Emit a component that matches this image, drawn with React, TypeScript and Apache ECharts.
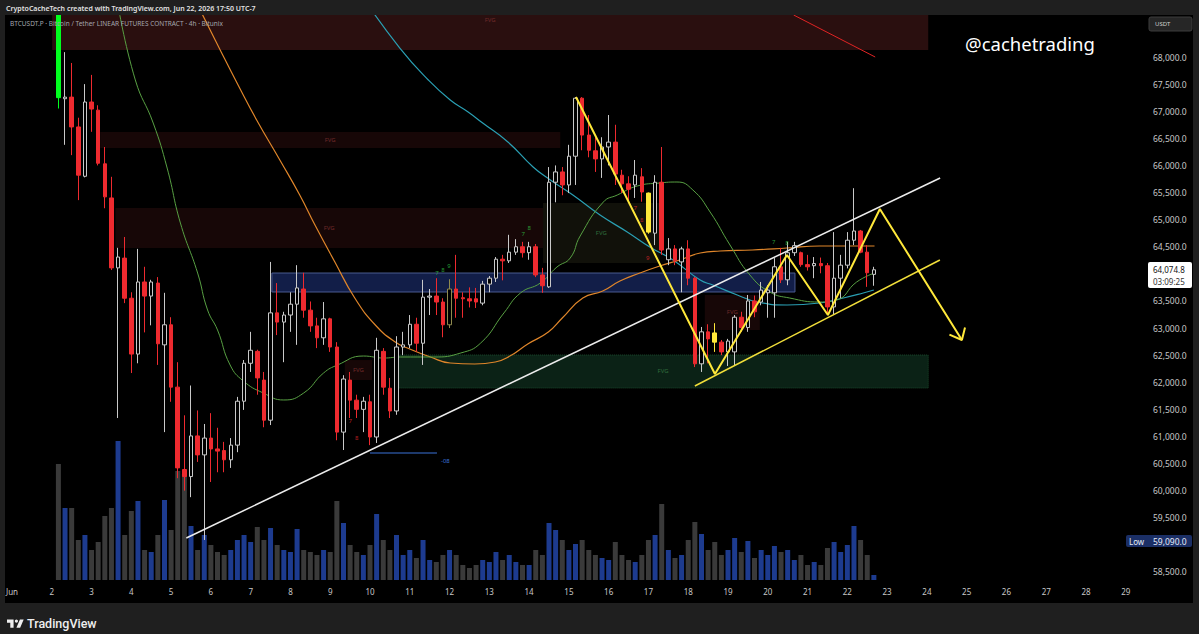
import React, { useEffect, useRef } from "react";
import * as echarts from "echarts";

// ---------- DATA ----------
const dayLabels = ["Jun","2","3","4","5","6","7","8","9","10","11","12","13","14","15","16","17","18","19","20","21","22","23","24","25","26","27","28","29"];
// x unit = one 4h bar counted from Jun 1 00:00; first candle sits at bar 7 (Jun 2 04:00)
const firstBar = 7;

const opens = [69800,67230,67260,66710,65800,67170,67020,66030,65400,64110,
 64290,63550,62520,63850,63590,63830,62690,63060,61910,60390,
 60260,61010,60660,60970,60770,60740,60570,60840,61650,62350,
 62570,62040,61300,63280,63110,63240,63440,63720,63330,63040,
 62820,63170,62650,61080,62040,61670,61500,61640,60990,62570,
 61890,61470,62650,62690,63070,62720,63570,63590,63480,63060,
 63720,63560,63540,63540,63460,63810,63920,64270,64240,64400,
 64500,64390,64500,63980,63760,65690,65880,65640,66170,67240,
 66560,66270,66120,66340,66430,65820,65660,65640,65790,65490,
 64750,65690,64260,64460,64220,64460,63920,62340,62930,62910,
 62740,62560,62560,63200,63010,63500,63480,63650,63650,64130,
 63890,64390,64390,64170,64150,64190,64150,63390,63920,64160,
 64620,64790,64400,63990];
const closes = [67250,67260,66710,65820,67170,67040,66040,65420,64110,64310,
 63550,62520,63850,63590,63850,62710,63060,61910,60420,60260,
 61010,60660,60970,60770,60730,60570,60840,61650,62350,62590,
 62080,61300,63280,63110,63240,63440,63740,63330,63040,62820,
 63170,62650,61080,62060,61670,61500,61650,60990,62590,61910,
 61470,62650,62690,63070,62720,63570,63590,63480,63060,63720,
 63550,63540,63500,63480,63810,63920,64270,64240,64400,64500,
 64390,64500,63980,63780,65690,65880,65640,66170,67240,66560,
 66280,66120,66340,66430,65840,65660,65560,65820,65510,64770,
 65690,64440,64460,64240,64460,63920,62340,62930,62800,62740,
 62560,62760,63200,63010,63500,63300,63700,63700,64130,63890,
 64390,64520,64170,64130,64190,64150,63390,63920,64160,64620,
 64790,64400,64020,64075];
const lows = [67050,66380,66190,65360,65780,66620,66000,65210,64070,61340,
 63460,62170,62350,62920,63050,62320,61080,61640,60230,60000,
 59880,60530,59090,60160,60340,60340,60420,60710,61490,62190,
 61770,61170,61210,62870,62370,62930,62690,63190,62930,62630,
 62690,62560,60930,60750,61340,61340,61080,60840,60880,61770,
 61340,61400,62500,62630,62560,62320,63240,63240,62830,63000,
 63190,63190,63380,63370,63420,63660,63850,63880,64200,64350,
 64300,64260,63940,63650,63740,65320,65450,65490,65640,66280,
 66150,65880,65770,66000,65640,65490,65350,65400,65330,64740,
 64530,64350,64160,64160,63660,63790,62280,62190,62350,62560,
 62500,62300,62300,62930,62930,63200,63420,63190,63190,63830,
 63790,64330,64130,64060,63920,64010,63240,63240,63550,64100,
 64530,64380,63760,63780];
const highs = [69900,68090,67890,66880,67500,67670,67110,66340,65790,64480,
 64680,63660,64460,64130,63890,63940,63650,63200,62370,61390,
 61940,61480,61230,61430,61160,60900,60970,61730,62410,62930,
 62600,62190,64220,63830,63300,63660,64160,64020,63490,63190,
 63480,63190,62740,62130,62190,61770,61730,61770,62820,62630,
 62080,62850,62930,63240,63190,63890,63720,63920,63550,63900,
 64350,63660,63750,63740,63870,63960,64310,64350,64720,64640,
 64590,64590,64550,64110,65970,66000,65970,66380,67260,67260,
 66930,66520,66520,66930,66750,65920,65800,66100,65950,65500,
 65820,66340,64660,64530,64500,64620,63940,63020,63070,63090,
 62780,62800,63240,63300,63610,63600,63850,63790,64290,64480,
 64590,64590,64410,64350,64310,64300,64200,64770,64350,64770,
 65580,64810,64530,64130];
const volumes = [116,72,72,40,45,30,38,64,72,139,
 45,69,79,30,28,45,80,50,109,106,
 54,30,45,35,28,25,30,40,45,38,
 53,40,52,35,30,28,51,30,28,25,
 30,28,79,57,35,28,25,35,66,40,
 30,45,25,30,22,40,20,18,25,30,
 25,15,12,15,20,18,28,20,25,18,
 15,15,30,25,57,50,40,30,36,40,
 30,25,22,20,38,25,20,18,25,40,
 45,76,30,22,25,40,58,46,30,38,
 25,30,42,28,39,22,30,25,34,28,
 30,20,25,15,18,15,32,38,28,35,
 54,40,25,5];
// indicator-coloured bars (index -> kind)
const paintedBars: [number, string][] = [[0, "climax"], [89, "signal"], [99, "signal"], [59, "olive"]];

const maGreen = [[16.0,68950],[18.6,67576],[21.3,66782],[23.4,65952],[25.4,64938],[28.0,64015],[29.5,63333],[31.0,62964],[32.9,62318],[34.9,62023],[37.9,61802],[41.0,61673],[44.0,61802],[47.0,62171],[49.1,62318],[53.0,62484],[56.1,62447],[58.6,62466],[63.6,62466],[67.7,62540],[70.7,62724],[74.2,63278],[76.7,63647],[79.7,63831],[82.2,64126],[84.2,64292],[85.7,64698],[89.2,65325],[91.3,65454],[94.3,65620],[97.7,65676],[100.3,65694],[102.7,65547],[105.3,65141],[108.3,64532],[111.3,63979],[114.3,63665],[117.3,63554],[121.8,63480],[124.4,63517],[127.4,63849],[130.1,64015]];
const maOrange = [[28.0,68960],[31.4,68129],[34.1,67483],[36.9,66838],[40.4,66100],[43.4,65454],[45.7,64901],[48.7,64218],[51.7,63554],[54.8,63056],[57.8,62743],[60.0,62613],[63.1,62466],[66.1,62355],[69.8,62337],[72.9,62374],[75.1,62484],[77.8,62706],[80.9,62927],[83.0,63185],[86.1,63554],[89.1,63683],[91.7,63868],[94.7,64015],[97.7,64145],[100.7,64255],[103.8,64384],[106.8,64421],[111.7,64440],[116.9,64477],[121.8,64514],[125.9,64514],[130.1,64514]];
const maTeal = [[53.2,69050],[58.5,68166],[62.8,67576],[66.1,67207],[68.8,66985],[71.0,66782],[74.8,66432],[78.6,65971],[81.2,65731],[84.6,65454],[88.7,65085],[92.8,64772],[96.2,64495],[99.7,64255],[103.8,63886],[105.7,63794],[109.4,63610],[112.4,63480],[116.9,63425],[121.8,63462],[125.4,63554],[128.4,63646],[130.0,63702]];
const redTrend = [[117.9,68775],[130.2,68000]];
const whiteTrend = [[26.3,59127],[140.0,65768]];
const yellowZigzag = [[85.07,67262],[106.03,62152],[116.89,64348],[123.07,63241],[130.91,65196],[143.28,62780]];
const yellowArrow = [[141.4,62880],[143.28,62780],[143.75,63010]];
const yellowLower = [[103.0,61931],[139.96,64255]];
const blueLevel = [[54.0,60695],[64.1,60695]];
// zones: [fromBar, toBar, lowPrice, highPrice, kind]
const zones: [number, number, number, number, string][] = [
  [6.06, 138.2, 68129, 68775, "bearTop"],
  [13.3, 82.7, 66321, 66617, "bear"],
  [15.6, 80.1, 64477, 65215, "bear"],
  [80.1, 97.7, 64200, 65307, "olive"],
  [39.2, 118.1, 63665, 64015, "ob"],
  [58.2, 138.2, 61894, 62503, "bull"],
  [104.5, 112.8, 62964, 63610, "bear"],
  [50.2, 54.3, 62042, 62410, "bear"],
];
// sequential counts: [bar, price, count]
const buyCounts: [number, number, string][] = [[64.1,64015,"7"],[65.0,64071,"8"],[65.9,64145,"9"],[77.1,64735,"7"],[78.0,64846,"8"],[114.9,64587,"7"],[116.9,64569,"8"]];
const sellCounts: [number, number, string][] = [[94.0,65215,"7"],[95.0,64993,"8"],[95.9,64292,"9"],[51.0,61285,"7"],[52.0,60972,"8"]];
const lastPrice = "64,074.8";
const countdown = "03:09:25";
const lowLabel = "59,090.0";
const coveredTicks = [64000, 59000];

// ---------- STYLE ----------
const UP = "#c9c9c9";
const DOWN = "#ee2a2f";
const paint: Record<string, string> = { climax: "#00ff1e", signal: "#ffe83a", olive: "#8f8a4e" };
const zoneStyle: Record<string, any> = {
  bearTop: { fill: "#2a0f0f", text: "#6e2a2a", pos: "insideTop" },
  bear: { fill: "#170707", text: "#6e2a2a", pos: "inside" },
  olive: { fill: "#11110a", text: "#2f6b3c", pos: "inside" },
  ob: { fill: "#121e48", text: "", pos: "inside", border: "#4a5b90" },
  bull: { fill: "#0b2216", text: "#2f6b3c", pos: "inside", border: "#1a4a2c", dotted: true },
};

echarts.graphic.registerShape(
  "tvlogo",
  echarts.graphic.extendPath(
    "M14 22H7V11H0V4h14v18zM28 22h-8l7.5-18h8zM23.5 7.5a3.5 3.5 0 1 1-7 0a3.5 3.5 0 1 1 7 0z",
    {}
  ) as any
);

const fmt = (v: number) =>
  v.toLocaleString("en-US", { minimumFractionDigits: 1, maximumFractionDigits: 1 });

function buildOption() {
  const candleData = opens.map((o, i) => {
    const item: any = { value: [firstBar + i, o, closes[i], lows[i], highs[i]] };
    const p = paintedBars.find((b) => b[0] === i);
    if (p) {
      const c = paint[p[1]];
      item.itemStyle =
        p[1] === "olive"
          ? { borderColor: c, borderColor0: c }
          : { color: c, color0: c, borderColor: c, borderColor0: c };
    }
    return item;
  });
  const volData = volumes.map((v, i) => ({
    value: [firstBar + i, v],
    itemStyle: { color: closes[i] >= opens[i] ? "#1d3b8f" : "#3a3a3a" },
  }));
  const areaData = zones.map(([a, b, lo, hi, kind]) => {
    const s = zoneStyle[kind];
    return [
      {
        name: s.text ? "FVG" : "",
        xAxis: a,
        yAxis: hi,
        itemStyle: {
          color: s.fill,
          borderColor: s.border || "transparent",
          borderWidth: s.border ? 1 : 0,
          borderType: s.dotted ? "dotted" : "solid",
        },
        label: {
          show: !!s.text,
          position: s.pos,
          distance: 2,
          color: s.text,
          fontSize: 6,
          formatter: "{b}",
        },
      },
      { xAxis: b, yAxis: lo },
    ];
  });
  const line = (data: number[][], color: string, width: number, smooth: boolean, z = 4, extra: any = {}) => ({
    type: "line",
    data,
    smooth,
    symbol: "none",
    silent: true,
    z,
    lineStyle: { color, width },
    ...extra,
  });
  const counts = (rows: [number, number, string][], color: string) => ({
    type: "scatter",
    z: 8,
    silent: true,
    symbolSize: 0,
    data: rows.map((r) => ({ value: [r[0], r[1]], name: r[2] })),
    label: { show: true, position: "inside", formatter: "{b}", color, fontSize: 6 },
  });

  const text = (t: string, x: number, y: number, font: string, fill: string, align = "left") => ({
    type: "text",
    x,
    y,
    z: 120,
    style: { text: t, font, fill, align, verticalAlign: "middle" },
  });

  return {
    animation: false,
    backgroundColor: "#000000",
    textStyle: { fontFamily: "Noto Sans" },
    grid: [
      { left: 12, right: 52, top: 15, bottom: 54 },
      { left: 12, right: 52, top: 430, height: 150 },
    ],
    xAxis: [
      {
        type: "value",
        gridIndex: 0,
        min: 0,
        max: 171.2,
        interval: 6,
        axisLine: { show: false },
        axisTick: { show: false },
        splitLine: { show: false },
        axisLabel: {
          color: "#c8c8c8",
          fontSize: 8,
          margin: 7,
          formatter: (v: number) => {
            const d = Math.round(v / 6);
            if (Math.abs(v - d * 6) > 1e-6) return "";
            return dayLabels[d] ?? "";
          },
        },
      },
      { type: "value", gridIndex: 1, min: 0, max: 171.2, show: false },
    ],
    yAxis: [
      {
        type: "value",
        gridIndex: 0,
        position: "right",
        min: 58352,
        max: 68775,
        splitNumber: 20,
        minInterval: 500,
        maxInterval: 500,
        axisLine: { show: false },
        axisTick: { show: false },
        splitLine: { show: false },
        axisLabel: {
          color: "#c8c8c8",
          fontSize: 8.5,
          margin: 6,
          showMinLabel: false,
          showMaxLabel: false,
          formatter: (v: number) =>
            Math.abs(v / 500 - Math.round(v / 500)) < 1e-6 &&
            v < 68400 &&
            v > 58400 &&
            !coveredTicks.includes(Math.round(v))
              ? fmt(v)
              : "",
        },
      },
      { type: "value", gridIndex: 1, min: 0, max: 150, show: false },
    ],
    series: [
      {
        type: "line",
        data: [],
        z: 1,
        silent: true,
        markArea: { silent: true, data: areaData },
      },
      {
        type: "bar",
        xAxisIndex: 1,
        yAxisIndex: 1,
        barWidth: 5,
        data: volData,
        z: 2,
        silent: true,
      },
      line(maTeal, "#2a9fb3", 1.2, true),
      line(maOrange, "#e0862a", 1.2, true),
      line(maGreen, "#58a043", 1, true),
      {
        type: "candlestick",
        z: 5,
        barWidth: 4,
        silent: true,
        dimensions: ["bar", "open", "close", "lowest", "highest"],
        encode: { x: "bar", y: ["open", "close", "lowest", "highest"] },
        itemStyle: { color: "#000000", color0: DOWN, borderColor: UP, borderColor0: DOWN, borderWidth: 1 },
        data: candleData,
      },
      line(redTrend, "#e02424", 1, false, 6),
      line(whiteTrend, "#ececec", 1.5, false, 6),
      line(yellowLower, "#f2df3a", 1.5, false, 7),
      line(yellowZigzag, "#ffe83a", 2, false, 7),
      line(yellowArrow, "#ffe83a", 2, false, 7),
      line(blueLevel, "#3a72d8", 1.2, false, 6, {
        endLabel: { show: true, formatter: "-08", color: "#3a72d8", fontSize: 6, offset: [-4, 8] },
      }),
      counts(buyCounts, "#33c043"),
      counts(sellCounts, "#e0282d"),
    ],
    graphic: {
      elements: [
        { type: "rect", z: 110, shape: { x: 0, y: 0, width: 1199, height: 15 }, style: { fill: "#1f1f1f" } },
        { type: "rect", z: 110, shape: { x: 0, y: 603, width: 1199, height: 31 }, style: { fill: "#1f1f1f" } },
        { type: "rect", z: 110, shape: { x: 0, y: 0, width: 5, height: 634 }, style: { fill: "#1f1f1f" } },
        { type: "rect", z: 110, shape: { x: 1193, y: 0, width: 6, height: 634 }, style: { fill: "#1f1f1f" } },
        text("CryptoCacheTech created with TradingView.com, Jun 22, 2026 17:50 UTC-7", 6, 8, '600 7px "Noto Sans"', "#e2e2e2"),
        text("BTCUSDT.P · Bitcoin / Tether LINEAR FUTURES CONTRACT · 4h · Bitunix", 10, 23, '6.5px "Noto Sans"', "#a3a6ae"),
        text("@cachetrading", 965, 43, '18.5px "Noto Sans"', "#ffffff"),
        { type: "rect", z: 115, shape: { x: 1149, y: 17, width: 43, height: 14, r: 2 }, style: { fill: "#262626", stroke: "#3c3c3c", lineWidth: 1 } },
        text("USDT", 1155, 24, '6px "Noto Sans"', "#d0d0d0"),
        { type: "rect", z: 115, shape: { x: 1148, y: 262, width: 44, height: 26, r: 2 }, style: { fill: "#ffffff" } },
        text(lastPrice, 1153, 269, '8px "Noto Sans"', "#111111"),
        text(countdown, 1153, 281, '8px "Noto Sans"', "#333333"),
        { type: "rect", z: 115, shape: { x: 1126, y: 535, width: 66, height: 12, r: 2 }, style: { fill: "#1b2f66" } },
        text("Low", 1129, 541, '8px "Noto Sans"', "#e6ebf7"),
        text(lowLabel, 1153, 541, '8.5px "Noto Sans"', "#e6ebf7"),
        { type: "tvlogo", z: 120, x: 7, y: 617.5, scaleX: 0.47, scaleY: 0.47, style: { fill: "#eeeeee" } },
        text("TradingView", 27, 623, '500 12.5px Roboto', "#eeeeee"),
      ],
    },
  };
}

export default function App() {
  const ref = useRef<HTMLDivElement>(null);
  useEffect(() => {
    if (!ref.current) return;
    document.body.style.margin = "0";
    const chart = echarts.init(ref.current, undefined, { renderer: "svg" });
    chart.setOption(buildOption() as any);
    return () => chart.dispose();
  }, []);
  return <div ref={ref} style={{ position: "fixed", left: 0, top: 0, width: 1199, height: 634 }} />;
}
